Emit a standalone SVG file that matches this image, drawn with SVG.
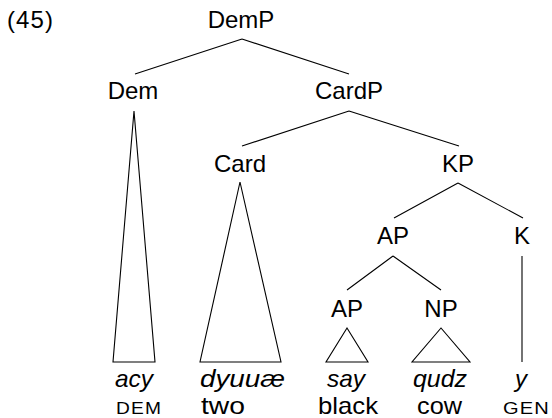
<svg xmlns="http://www.w3.org/2000/svg" width="552" height="418" viewBox="0 0 552 418">
<style>
text{font-family:"Liberation Sans",Arial,sans-serif;font-size:24px;fill:#000}
.c{text-anchor:middle}
.w{font-size:24px}
.it{font-style:italic}
.sc{font-size:17px;letter-spacing:1px}
.e{stroke:#000;stroke-width:1.1;fill:none}
</style>
<rect width="552" height="418" fill="#fff"/>
<text x="7" y="28" textLength="46">(45)</text>
<g id="connectors">
<path class="e" d="M242 39 L135 74 M242 39 L349 74"/>
<path class="e" d="M349 111 L242 146 M349 111 L459 146"/>
<path class="e" d="M458 183 L394 218 M458 183 L523 218"/>
<path class="e" d="M393 256 L347 290 M393 256 L441 290"/>
<path class="e" d="M522 256 L522 362"/>
<path class="e" d="M134 111 L113 362 L155 362 Z"/>
<path class="e" d="M240 182 L200 362 L281 362 Z"/>
<path class="e" d="M347 328 L326 362 L368 362 Z"/>
<path class="e" d="M441 328 L412 362 L470 362 Z"/>
</g>
<g id="DemP"><text class="c" x="241" y="28">DemP</text></g>
<g id="Dem"><text class="c" x="133" y="99">Dem</text></g>
<g id="CardP"><text class="c" x="349" y="99">CardP</text></g>
<g id="Card"><text class="c" x="240" y="172">Card</text></g>
<g id="KP"><text class="c" x="458" y="172">KP</text></g>
<g id="AP1"><text class="c" x="393" y="244">AP</text></g>
<g id="K"><text class="c" x="522" y="244">K</text></g>
<g id="AP2"><text class="c" x="347" y="317">AP</text></g>
<g id="NP"><text class="c" x="441" y="317">NP</text></g>
<g id="w-acy"><text class="w it" x="115" y="387" textLength="38" lengthAdjust="spacingAndGlyphs">acy</text><text class="sc" x="116" y="414" textLength="46" lengthAdjust="spacingAndGlyphs">DEM</text></g>
<g id="w-dyuuae"><text class="w it" x="200" y="387" textLength="85" lengthAdjust="spacingAndGlyphs">dyuuæ</text><text class="w" x="201" y="414" textLength="44" lengthAdjust="spacingAndGlyphs">two</text></g>
<g id="w-say"><text class="w it" x="327" y="387" textLength="38" lengthAdjust="spacingAndGlyphs">say</text><text class="w" x="318" y="414" textLength="60" lengthAdjust="spacingAndGlyphs">black</text></g>
<g id="w-qudz"><text class="w it" x="413" y="387" textLength="54" lengthAdjust="spacingAndGlyphs">qudz</text><text class="w" x="417" y="414" textLength="45" lengthAdjust="spacingAndGlyphs">cow</text></g>
<g id="w-y"><text class="w it c" x="521" y="387">y</text><text class="sc" x="503" y="414" textLength="47" lengthAdjust="spacingAndGlyphs">GEN</text></g>
</svg>
